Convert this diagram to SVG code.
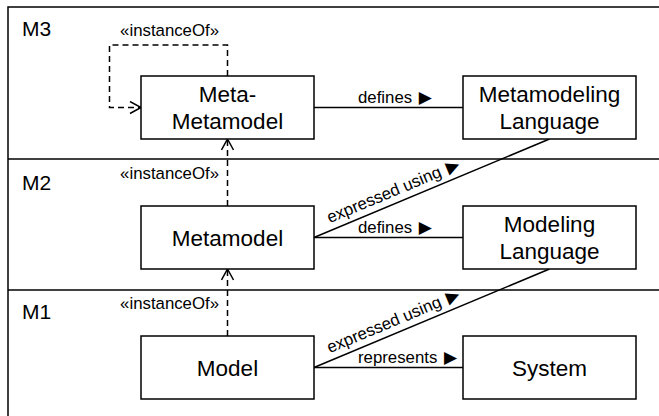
<svg xmlns="http://www.w3.org/2000/svg" width="659" height="416" viewBox="0 0 659 416">
<style>
.frame{stroke:#000;stroke-width:1.5;fill:none}
.box{fill:#fff;stroke:#000;stroke-width:1.5}
.bt{font-family:"Liberation Sans",Arial,sans-serif;font-size:22.5px;text-anchor:middle;fill:#000}
.lvl{font-family:"Liberation Sans",Arial,sans-serif;font-size:21px;fill:#000}
.lbl{font-family:"Liberation Sans",Arial,sans-serif;font-size:16.8px;fill:#000}
.tri{font-family:"DejaVu Sans",sans-serif;font-size:17px}
.line{stroke:#000;stroke-width:1.5;fill:none}
.dash{stroke:#000;stroke-width:1.5;fill:none;stroke-dasharray:6 4}
</style>
<defs>
<marker id="open" viewBox="0 0 14 14" refX="12" refY="7" markerWidth="14" markerHeight="14" markerUnits="userSpaceOnUse" orient="auto">
<path d="M1,1 L12,7 L1,13" fill="none" stroke="#000" stroke-width="1.5"/>
</marker>
</defs>
<rect width="659" height="416" fill="#fff"/>
<g id="levels">
<path class="frame" d="M8,416 V7 H659"/>
<path class="frame" d="M8,159 H659"/>
<path class="frame" d="M8,290 H659"/>
<text class="lvl" x="22" y="36">M3</text>
<text class="lvl" x="22" y="190">M2</text>
<text class="lvl" x="22" y="319">M1</text>
</g>
<g id="connectors">
<path class="dash" d="M227.5,76 V45 H109.5 V107.5 H141" marker-end="url(#open)"/>
<text class="lbl" x="219" y="36" text-anchor="end">«instanceOf»</text>
<path class="dash" d="M227.5,206 V139" marker-end="url(#open)"/>
<text class="lbl" x="219" y="179" text-anchor="end">«instanceOf»</text>
<path class="dash" d="M227.5,336 V269" marker-end="url(#open)"/>
<text class="lbl" x="219" y="309" text-anchor="end">«instanceOf»</text>
<path class="line" d="M314,107.5 H463"/>
<text class="lbl" x="358" y="103">defines <tspan class="tri" dx="2">▶</tspan></text>
<path class="line" d="M314,237.5 H463"/>
<text class="lbl" x="358" y="233">defines <tspan class="tri" dx="2">▶</tspan></text>
<path class="line" d="M314,367.5 H463"/>
<text class="lbl" x="358" y="363">represents <tspan class="tri" dx="2">▶</tspan></text>
<path class="line" d="M314,237.5 L549.5,139"/>
<text class="lbl" transform="translate(314 237.5) rotate(-22.7)" x="20" y="-7">expressed using <tspan class="tri" dx="2">▶</tspan></text>
<path class="line" d="M314,367.5 L549.5,269"/>
<text class="lbl" transform="translate(314 367.5) rotate(-22.7)" x="20" y="-7">expressed using <tspan class="tri" dx="2">▶</tspan></text>
</g>
<g id="metametamodel">
<rect class="box" x="141" y="76" width="173" height="63"/>
<text class="bt" x="227.5" y="101.7">Meta-</text>
<text class="bt" x="227.5" y="129.3">Metamodel</text>
</g>
<g id="metamodeling-language">
<rect class="box" x="463" y="76" width="173" height="63"/>
<text class="bt" x="549.5" y="101.7">Metamodeling</text>
<text class="bt" x="549.5" y="129.3">Language</text>
</g>
<g id="metamodel">
<rect class="box" x="141" y="206" width="173" height="63"/>
<text class="bt" x="227.5" y="245.5">Metamodel</text>
</g>
<g id="modeling-language">
<rect class="box" x="463" y="206" width="173" height="63"/>
<text class="bt" x="549.5" y="231.7">Modeling</text>
<text class="bt" x="549.5" y="259.3">Language</text>
</g>
<g id="model">
<rect class="box" x="141" y="336" width="173" height="63"/>
<text class="bt" x="227.5" y="375.5">Model</text>
</g>
<g id="system">
<rect class="box" x="463" y="336" width="173" height="63"/>
<text class="bt" x="549.5" y="375.5">System</text>
</g>
</svg>
